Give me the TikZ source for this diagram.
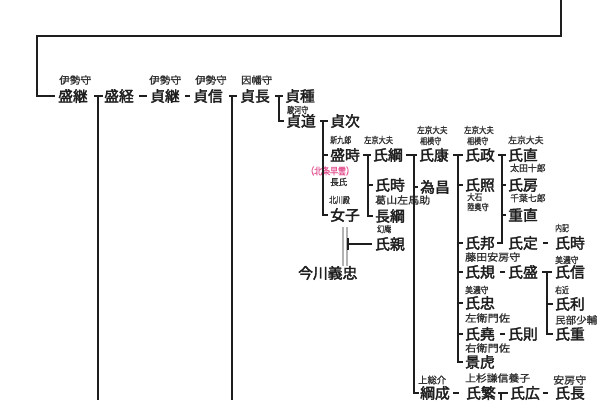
\documentclass[tikz,border=0pt]{standalone}
\usepackage{fontspec}
\setmainfont{Noto Sans CJK JP}
\newfontfamily\nmfont[FakeBold=2.4]{Noto Sans CJK JP}
\newfontfamily\anfont[FakeBold=1.2]{Noto Sans CJK JP}
\definecolor{nmcol}{RGB}{30,30,30}
\definecolor{ancol}{RGB}{50,50,50}
\definecolor{pinkcol}{RGB}{228,90,150}
\definecolor{lncol}{RGB}{30,30,30}
\newcommand\A[3]{{\fontsize{#1}{#1}\selectfont\scalebox{#2}[1]{#3}}}
\begin{document}
\begin{tikzpicture}[x=1pt,y=-1pt,
  nm/.style={anchor=west,inner sep=0pt,font=\nmfont\fontsize{14.8}{14.8}\selectfont,text=nmcol},
  an/.style={anchor=west,inner sep=0pt,font=\anfont,text=ancol},
  ln/.style={line width=2pt,draw=lncol},
  thin/.style={line width=1.1pt,draw=lncol},
  dbl/.style={line width=1.4pt,draw=gray!60}]
\useasboundingbox (0,0) rectangle (600,400);
\fill[white] (0,0) rectangle (600,400);
% names
\node[nm] (n1) at (58,96) {盛継};
\node[nm] (n2) at (104,96) {盛経};
\node[nm] (n3) at (150,96) {貞継};
\node[nm] (n4) at (193,96) {貞信};
\node[nm] (n5) at (240,96) {貞長};
\node[nm] (n6) at (285,96) {貞種};
\node[nm] (n7) at (286,121) {貞道};
\node[nm] (n8) at (330,121) {貞次};
\node[nm] (n9) at (330,155) {盛時};
\node[nm] (n10) at (330,215) {女子};
\node[nm] (n11) at (373,155) {氏綱};
\node[nm] (n12) at (375,185) {氏時};
\node[nm] (n13) at (375,216) {長綱};
\node[nm] (n14) at (375,244) {氏親};
\node[nm] (n15) at (298,273) {今川義忠};
\node[nm] (n16) at (419,155) {氏康};
\node[nm] (n17) at (420,187) {為昌};
\node[nm] (n18) at (420,393) {綱成};
\node[nm] (n19) at (465,155) {氏政};
\node[nm] (n20) at (465,185) {氏照};
\node[nm] (n21) at (465,243) {氏邦};
\node[nm] (n22) at (465,272) {氏規};
\node[nm] (n23) at (465,303) {氏忠};
\node[nm] (n24) at (465,334) {氏堯};
\node[nm] (n25) at (465,362) {景虎};
\node[nm] (n26) at (508,155) {氏直};
\node[nm] (n27) at (508,185) {氏房};
\node[nm] (n28) at (508,215) {重直};
\node[nm] (n29) at (508,243) {氏定};
\node[nm] (n30) at (555,243) {氏時};
\node[nm] (n31) at (508,272) {氏盛};
\node[nm] (n32) at (555,272) {氏信};
\node[nm] (n33) at (555,304) {氏利};
\node[nm] (n34) at (555,334) {氏重};
\node[nm] (n35) at (508,334) {氏則};
\node[nm] (n36) at (466,393) {氏繁};
\node[nm] (n37) at (510,393) {氏広};
\node[nm] (n38) at (555,393) {氏長};
% annotations
\node[an] (a1) at (59,80) {\A{10}{1.07}{伊勢守}};
\node[an] (a2) at (149,80) {\A{10}{1.07}{伊勢守}};
\node[an] (a3) at (195,80) {\A{10}{1.05}{伊勢守}};
\node[an] (a4) at (241,80) {\A{10}{1.03}{因幡守}};
\node[an] (a5) at (287,110) {\A{9}{0.78}{駿河守}};
\node[an] (a6) at (330,140) {\A{9}{0.78}{新九郎}};
\node[an,text=pinkcol] (a7) at (306,171) {\A{9.6}{0.83}{（北条早雲）}};
\node[an] (a8) at (330,182) {\A{9}{0.95}{長氏}};
\node[an] (a9) at (329,200) {\A{9}{0.76}{北川殿}};
\node[an] (a10) at (364,140) {\A{9}{0.8}{左京大夫}};
\node[an] (a11) at (375,200) {\A{10}{1.1}{葛山左馬助}};
\node[an] (a12) at (377,229) {\A{9}{0.78}{幻庵}};
\node[an] (a13) at (417,130) {\A{9}{0.84}{左京大夫}};
\node[an] (a14) at (420,141) {\A{9}{0.78}{相模守}};
\node[an] (a15) at (464,130) {\A{9}{0.82}{左京大夫}};
\node[an] (a16) at (467,141) {\A{9}{0.78}{相模守}};
\node[an] (a17) at (508,140) {\A{9.2}{0.96}{左京大夫}};
\node[an] (a18) at (510,168) {\A{9.2}{0.96}{太田十郎}};
\node[an] (a19) at (510,198) {\A{9.2}{0.96}{千葉七郎}};
\node[an] (a20) at (467,197) {\A{9}{0.84}{大石}};
\node[an] (a21) at (467,207) {\A{9}{0.8}{陸奥守}};
\node[an] (a22) at (465,257) {\A{10}{1.1}{藤田安房守}};
\node[an] (a23) at (465,290) {\A{9}{0.86}{美濃守}};
\node[an] (a24) at (465,318) {\A{10}{1.12}{左衛門佐}};
\node[an] (a25) at (465,348) {\A{10}{1.12}{右衛門佐}};
\node[an] (a26) at (465,378) {\A{10}{1.08}{上杉謙信養子}};
\node[an] (a27) at (555,228) {\A{9}{0.76}{内記}};
\node[an] (a28) at (555,260) {\A{9}{0.86}{美濃守}};
\node[an] (a29) at (555,290) {\A{9}{0.76}{右近}};
\node[an] (a30) at (555,320) {\A{10}{1.05}{民部少輔}};
\node[an] (a31) at (418,380) {\A{9.5}{0.98}{上総介}};
\node[an] (a32) at (553,380) {\A{10}{1.1}{安房守}};
% connectors
\coordinate (top) at (561,0);
\draw[ln] (top) -- (561,36) -- (37,36) |- ([xshift=-3pt]n1.west);
% row 0
\coordinate (j1) at (98,96);
\draw[ln] ([xshift=6pt]n1.east) -- ([xshift=-1pt]n2.west);
\draw[ln] (j1) -- (98,400);
\draw[ln] ([xshift=5pt]n2.east) -- ([xshift=-3pt]n3.west);
\draw[ln] ([xshift=5pt]n3.east) -- ([xshift=-3pt]n4.west);
\coordinate (j2) at (232,96);
\draw[ln] ([xshift=6pt]n4.east) -- ([xshift=-3pt]n5.west);
\draw[ln] (j2) -- (232,400);
\coordinate (j3) at (279,96);
\draw[ln] ([xshift=5pt]n5.east) -- ([xshift=-2pt]n6.west);
\draw[ln] (j3) |- ([xshift=-2pt]n7.west);
% sadamichi children
\coordinate (j4) at (323,121);
\draw[ln] ([xshift=4pt]n7.east) -- ([xshift=-2pt]n8.west);
\draw[ln] (j4) |- ([xshift=-2pt]n10.west);
\draw[ln] (323,155) -- ([xshift=-2pt]n9.west);
% moritoki children
\coordinate (j5) at (368,155);
\draw[ln] ([xshift=3pt]n9.east) -- ([xshift=-2pt]n11.west);
\draw[ln] (j5) |- ([xshift=-2pt]n13.west);
\draw[ln] (368,185) -- ([xshift=-2pt]n12.west);
% imagawa
\draw[dbl] (343,227) -- (343,266);
\draw[dbl] (347,227) -- (347,266);
\draw[ln] (348,244) -- ([xshift=-3pt]n14.west);
\draw[thin] (348,238) -- (348,250);
% ujitsuna children
\coordinate (j6) at (414,155);
\draw[ln] ([xshift=3pt]n11.east) -- ([xshift=-2pt]n16.west);
\draw[ln] (j6) |- ([xshift=-1pt]n18.west);
\draw[ln] (414,187) -- ([xshift=-2pt]n17.west);
% ujiyasu children
\coordinate (j7) at (458,155);
\draw[ln] ([xshift=4pt]n16.east) -- ([xshift=-2pt]n19.west);
\draw[ln] (j7) |- ([xshift=-2pt]n25.west);
\draw[ln] (458,185) -- ([xshift=-2pt]n20.west);
\draw[ln] (458,243) -- ([xshift=-2pt]n21.west);
\draw[ln] (458,272) -- ([xshift=-2pt]n22.west);
\draw[ln] (458,303) -- ([xshift=-2pt]n23.west);
\draw[ln] (458,334) -- ([xshift=-2pt]n24.west);
% ujimasa children
\coordinate (j8) at (502,155);
\draw[ln] ([xshift=3pt]n19.east) -- ([xshift=-2pt]n26.west);
\draw[ln] (j8) -- (502,243);
\draw[ln] (502,185) -- ([xshift=-2pt]n27.west);
\draw[ln] (502,215) -- ([xshift=-2pt]n28.west);
\draw[ln] ([xshift=2pt]n21.east) -- (503,243);
% others
\draw[ln] ([xshift=5pt]n29.east) -- ([xshift=-7pt]n30.west);
\draw[ln] ([xshift=5pt]n22.east) -- ([xshift=-3pt]n31.west);
\coordinate (j9) at (547,272);
\draw[ln] ([xshift=4pt]n31.east) -- ([xshift=-3pt]n32.west);
\draw[ln] (j9) |- ([xshift=-2pt]n34.west);
\draw[ln] (547,304) -- ([xshift=-2pt]n33.west);
\draw[ln] ([xshift=5pt]n24.east) -- ([xshift=-3pt]n35.west);
% bottom row
\draw[ln] ([xshift=3pt]n18.east) -- ([xshift=-7pt]n36.west);
\coordinate (j10) at (501,393);
\draw[ln] ([xshift=2pt]n36.east) -- ([xshift=-2pt]n37.west);
\draw[ln] (j10) -- (501,400);
\draw[ln] ([xshift=3pt]n37.east) -- ([xshift=-7pt]n38.west);
\end{tikzpicture}
\end{document}
